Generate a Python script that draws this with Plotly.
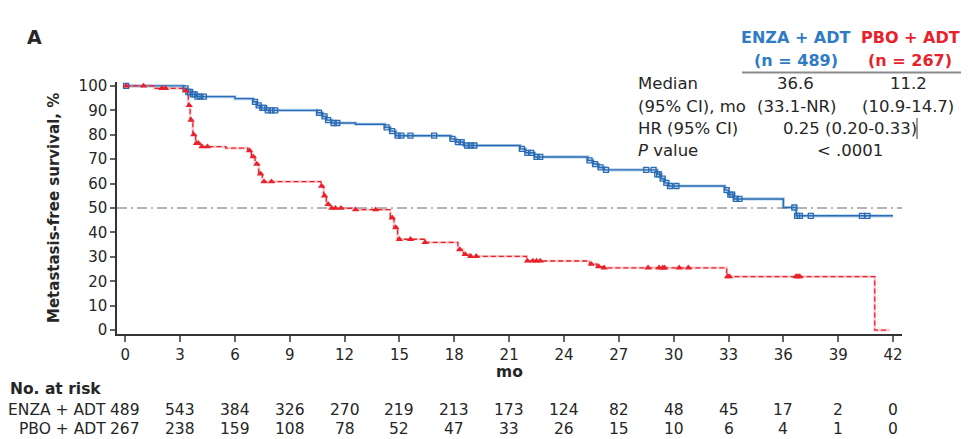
import numpy as np
import plotly.graph_objects as go

# ---------------- data ----------------
enza_t = [0, 3.2, 3.4, 3.6, 3.9, 6.0, 7.0, 7.2, 7.4, 7.7, 10.5, 10.8, 11.0, 11.3, 12.6,
          14.2, 14.5, 14.8, 17.8, 18.1, 18.5, 21.6, 21.9, 22.4, 25.3, 25.6, 25.9, 26.2,
          29.1, 29.3, 29.5, 29.7, 32.8, 33.0, 33.3, 36.0, 36.7, 42.0]
enza_s = [100, 99, 97.5, 96.5, 95.6, 94.8, 93.5, 92, 91, 90, 89, 87.5, 86, 84.8, 84.3,
          83, 81.5, 79.6, 78.3, 77, 75.6, 74.2, 72.6, 70.9, 69.5, 68, 66.6, 65.6,
          63.8, 62, 60.3, 59.0, 57.3, 55.5, 53.7, 50.2, 46.8, 46.8]

pbo_t = [0, 1.6, 3.2, 3.45, 3.55, 3.7, 3.85, 4.1, 5.5, 6.7, 6.9, 7.1, 7.3, 7.5, 10.7,
         10.85, 11.0, 11.2, 12.6, 14.5, 14.7, 14.9, 16.4, 18.2, 18.5, 18.8, 21.95, 25.4,
         25.8, 26.1, 32.9, 41.0, 41.8]
pbo_s = [100, 99, 98, 92, 86, 80, 76.5, 75.1, 74.5, 73.5, 71, 68, 64, 60.8, 59,
         55, 51.5, 49.9, 49.3, 46, 42, 37.2, 35.9, 33, 31, 30.2, 28.3, 27,
         26, 25.5, 21.9, 0, 0]

enza_cens = [0.05, 3.3, 3.45, 3.55, 3.7, 3.8, 3.95, 4.1, 4.3, 7.1, 7.3, 7.5, 7.6, 7.8, 8.0,
             8.2, 10.6, 10.9, 11.1, 11.4, 11.6, 14.3, 14.6, 14.9, 15.1, 15.6, 16.9, 17.9,
             18.2, 18.4, 18.7, 18.9, 19.1, 21.7, 22.0, 22.2, 22.5, 22.7, 25.4, 25.7, 26.0,
             26.3, 28.5, 28.9, 29.1, 29.2, 29.4, 29.6, 29.8, 30.15, 32.9, 33.1, 33.2, 33.4,
             33.6, 36.6, 36.75, 36.9, 37.5, 40.3, 40.6]
pbo_cens = [0.05, 1.0, 2.0, 2.2, 3.3, 3.5, 3.6, 3.75, 3.9, 4.0, 4.2, 4.5, 6.8, 7.0, 7.2,
            7.4, 7.6, 8.0, 10.74, 10.9, 11.1, 11.3, 11.5, 11.8, 12.6, 13.7, 14.6, 14.8,
            15.0, 15.6, 16.4, 18.3, 18.6, 18.9, 19.2, 22.0, 22.3, 22.5, 22.7, 25.5, 25.9,
            26.2, 28.6, 29.2, 29.4, 29.5, 30.3, 30.8, 32.95, 33.05, 36.7, 36.8, 36.9]

risk_times = [0, 3, 6, 9, 12, 15, 18, 21, 24, 27, 30, 33, 36, 39, 42]
risk_enza = [489, 543, 384, 326, 270, 219, 213, 173, 124, 82, 48, 45, 17, 2, 0]
risk_pbo = [267, 238, 159, 108, 78, 52, 47, 33, 26, 15, 10, 6, 4, 1, 0]

y_ticks = [0, 10, 20, 30, 40, 50, 60, 70, 80, 90, 100]

BLUE = "#2a6cb3"
BLUE_TXT = "#2f7cc4"
RED = "#e8222b"
FONT = "DejaVu Sans"
TXT = "#262626"


def step_value(times, surv, q):
    idx = np.searchsorted(np.asarray(times), np.asarray(q), side="right") - 1
    return np.asarray(surv)[idx]


fig = go.Figure()

# median reference line
fig.add_trace(go.Scatter(x=[-0.45, 42.49], y=[50, 50], mode="lines",
                         line=dict(color="#9a9a9a", width=1.3, dash="10px,4px,2px,4px"),
                         hoverinfo="skip", showlegend=False))

# ENZA halo + line
fig.add_trace(go.Scatter(x=enza_t, y=enza_s, mode="lines", line_shape="hv",
                         line=dict(color="rgba(90,150,210,0.45)", width=3.2),
                         hoverinfo="skip", showlegend=False))
fig.add_trace(go.Scatter(x=enza_t, y=enza_s, mode="lines", line_shape="hv",
                         line=dict(color=BLUE, width=1.4), showlegend=False))
# PBO line
fig.add_trace(go.Scatter(x=pbo_t, y=pbo_s, mode="lines", line_shape="hv",
                         line=dict(color="rgba(240,110,120,0.35)", width=2.6),
                         hoverinfo="skip", showlegend=False))
fig.add_trace(go.Scatter(x=pbo_t, y=pbo_s, mode="lines", line_shape="hv",
                         line=dict(color=RED, width=1.3, dash="5px,3px"), showlegend=False))

# censor marks
fig.add_trace(go.Scatter(x=enza_cens, y=step_value(enza_t, enza_s, enza_cens), mode="markers",
                         marker=dict(symbol="square-open", size=5, color=BLUE,
                                     line=dict(width=1.3, color=BLUE)),
                         showlegend=False))
fig.add_trace(go.Scatter(x=pbo_cens, y=step_value(pbo_t, pbo_s, pbo_cens), mode="markers",
                         marker=dict(symbol="triangle-up", size=6.5, color=RED,
                                     line=dict(width=0)),
                         showlegend=False))

# --------------- layout ---------------
L, R, T, B = 117, 72, 82, 105
H = 439
PH = H - T - B


def py(ypix):
    return (H - B - ypix) / PH


annotations = []


def txt(text, x, y, xref="paper", size=16, bold=False, color=TXT, xanchor="center"):
    if bold:
        text = "<b>" + text + "</b>"
    annotations.append(dict(text=text, x=x, y=py(y), xref=xref, yref="paper",
                            xanchor=xanchor, yanchor="middle", showarrow=False,
                            font=dict(family=FONT, size=size, color=color)))


def px(xpix):
    return (xpix - L) / (974 - L - R)


# panel label
txt("A", px(34), 37, size=19, bold=True)

# header table
txt("ENZA + ADT", px(796), 38, size=16, bold=True, color=BLUE_TXT)
txt("(n = 489)", px(796), 60, size=16, bold=True, color=BLUE_TXT)
txt("PBO + ADT", px(910), 38, size=16, bold=True, color=RED)
txt("(n = 267)", px(910), 60, size=16, bold=True, color=RED)
txt("Median", px(636), 83, size=16.5, xanchor="left")
txt("36.6", px(795), 83, size=16.5)
txt("11.2", px(908), 83, size=16.5)
txt("(95% CI), mo", px(636), 106, size=16.5, xanchor="left")
txt("(33.1-NR)", px(796), 106, size=16.5)
txt("(10.9-14.7)", px(908), 106, size=16.5)
txt("HR (95% CI)", px(636), 128, size=16.5, xanchor="left")
txt("0.25 (0.20-0.33)", px(850), 128, size=16.5)
txt("<i>P</i> value", px(636), 150, size=16.5, xanchor="left")
txt("&lt; .0001", px(850), 150, size=16.5)

# axis titles
txt("mo", 21, 372, xref="x", size=15.5, bold=True)
annotations.append(dict(text="<b>Metastasis-free survival, %</b>", x=px(54), y=py(208),
                        xref="paper", yref="paper", textangle=-90, showarrow=False,
                        xanchor="center", yanchor="middle",
                        font=dict(family=FONT, size=15, color=TXT)))

# risk table
txt("No. at risk", px(8), 389, size=15.5, bold=True, xanchor="left")
txt("ENZA + ADT", px(108), 410, size=15.5, xanchor="right")
txt("PBO + ADT", px(108), 428.5, size=15.5, xanchor="right")
for t, a, b in zip(risk_times, risk_enza, risk_pbo):
    txt(str(a), t, 410, xref="x", size=15.5)
    txt(str(b), t, 428.5, xref="x", size=15.5)

shapes = [
    dict(type="line", xref="paper", yref="paper", x0=px(742), x1=px(961), y0=py(72.5), y1=py(72.5),
         line=dict(color="#8a8a8a", width=2)),
    dict(type="line", xref="paper", yref="paper", x0=px(917), x1=px(917), y0=py(118), y1=py(139),
         line=dict(color="#333333", width=1)),
]

fig.update_layout(
    width=974, height=439,
    margin=dict(l=L, r=R, t=T, b=B, autoexpand=False),
    paper_bgcolor="white", plot_bgcolor="white",
    font=dict(family=FONT, color=TXT),
    showlegend=False,
    annotations=annotations,
    shapes=shapes,
    xaxis=dict(range=[-0.45, 42.49], tickmode="array", tickvals=risk_times,
               ticktext=[str(t) for t in risk_times],
               showgrid=False, zeroline=False, showline=True, linecolor="#333333", linewidth=1.5,
               ticks="outside", ticklen=6, tickwidth=1.5, tickcolor="#666666",
               tickfont=dict(family=FONT, size=15, color=TXT), automargin=False),
    yaxis=dict(range=[-1.6, 101.6], tickmode="array", tickvals=y_ticks,
               ticktext=[str(v) for v in y_ticks],
               showgrid=False, zeroline=False, showline=True, linecolor="#333333", linewidth=1.5,
               ticks="outside", ticklen=5, tickwidth=1.5, tickcolor="#666666",
               tickfont=dict(family=FONT, size=15, color=TXT), automargin=False),
)

fig.write_html("out.html")
